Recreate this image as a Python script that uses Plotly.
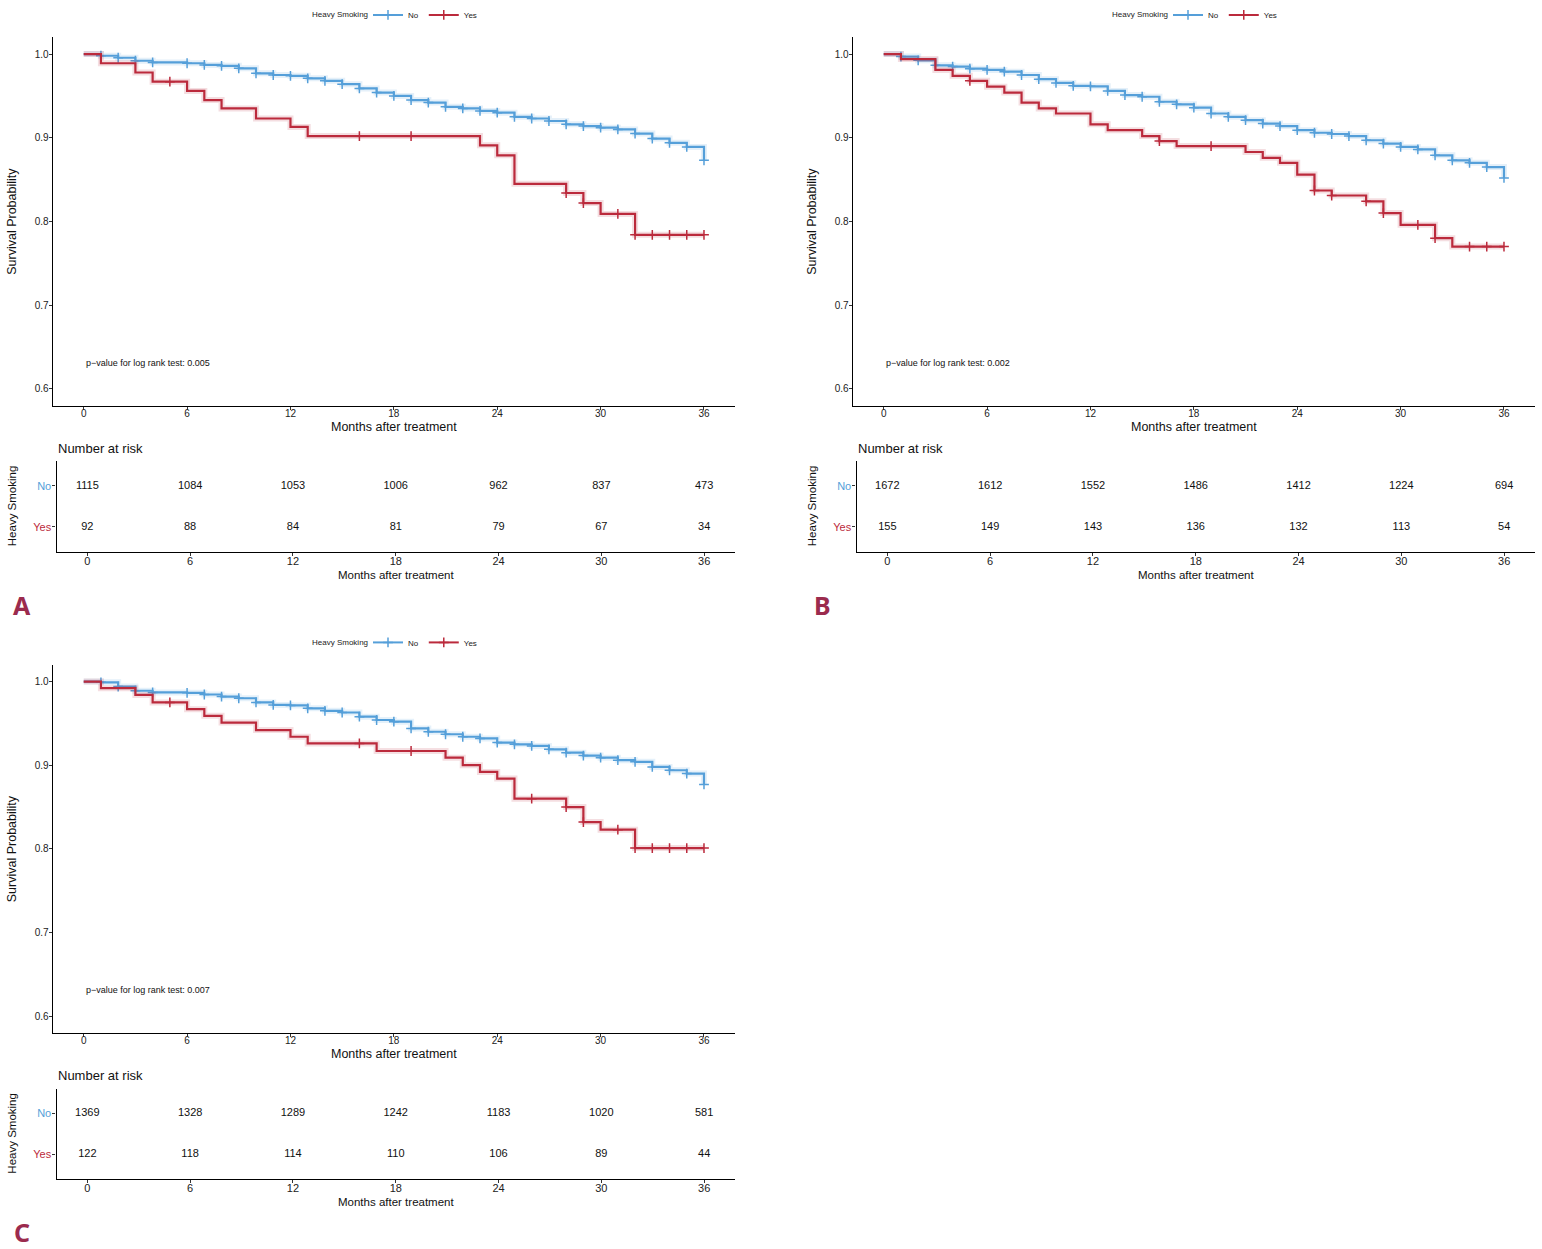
import plotly.graph_objects as go

W, H = 1542, 1249
FONT = "Liberation Sans, Arial, Helvetica, sans-serif"
BLUE = "#559FD9"
RED = "#BB2A3C"
LETTER = "#9B2B4E"

# ---------------- data ----------------
month_ticks = [0, 6, 12, 18, 24, 30, 36]
groups = ["No", "Yes"]
p_values = ["0.005", "0.002", "0.007"]
panel_letters = ["A", "B", "C"]

# Panel A
a_no_t = list(range(37))
a_no_s = [1.0, 0.998, 0.9956, 0.992, 0.990, 0.990, 0.989, 0.987, 0.986, 0.983, 0.977, 0.975,
          0.974, 0.971, 0.968, 0.964, 0.959, 0.954, 0.950, 0.945, 0.942, 0.937, 0.935, 0.932,
          0.930, 0.925, 0.923, 0.920, 0.916, 0.914, 0.912, 0.910, 0.905, 0.899, 0.894, 0.889, 0.873]
a_no_cens = [1, 2, 3, 4, 6, 7, 8, 9, 10, 11, 12, 13, 14, 15, 16, 17, 18, 19, 20, 21, 22, 23, 24,
             25, 26, 27, 28, 29, 30, 31, 32, 33, 34, 35, 36]
a_yes_t = [0, 1, 3, 4, 6, 7, 8, 10, 12, 13, 23, 24, 25, 28, 29, 30, 32, 36]
a_yes_s = [1.0, 0.989, 0.978, 0.967, 0.956, 0.945, 0.935, 0.923, 0.913, 0.902, 0.891, 0.879,
           0.845, 0.834, 0.822, 0.809, 0.784, 0.784]
a_yes_cens = [5, 16, 19, 28, 29, 31, 32, 33, 34, 35, 36]
a_risk_no = [1115, 1084, 1053, 1006, 962, 837, 473]
a_risk_yes = [92, 88, 84, 81, 79, 67, 34]

# Panel B
b_no_t = list(range(37))
b_no_s = [1.0, 0.997, 0.9925, 0.9865, 0.985, 0.9826, 0.981, 0.979, 0.975, 0.970, 0.9655, 0.962,
          0.9615, 0.956, 0.951, 0.949, 0.943, 0.940, 0.936, 0.929, 0.925, 0.921, 0.917, 0.914,
          0.909, 0.906, 0.9045, 0.902, 0.897, 0.893, 0.889, 0.886, 0.879, 0.873, 0.870, 0.865, 0.852]
b_no_cens = list(range(1, 37))
b_yes_t = [0, 1, 3, 4, 5, 6, 7, 8, 9, 10, 12, 13, 15, 16, 17, 21, 22, 23, 24, 25, 26, 28, 29, 30,
           32, 33, 36]
b_yes_s = [1.0, 0.994, 0.981, 0.974, 0.968, 0.961, 0.954, 0.942, 0.935, 0.929, 0.916, 0.909,
           0.902, 0.896, 0.890, 0.883, 0.876, 0.870, 0.856, 0.837, 0.831, 0.824, 0.810, 0.796,
           0.780, 0.770, 0.770]
b_yes_cens = [5, 16, 19, 25, 26, 28, 29, 31, 32, 34, 35, 36]
b_risk_no = [1672, 1612, 1552, 1486, 1412, 1224, 694]
b_risk_yes = [155, 149, 143, 136, 132, 113, 54]

# Panel C
c_no_t = list(range(37))
c_no_s = [1.0, 0.999, 0.994, 0.989, 0.987, 0.987, 0.9865, 0.9845, 0.982, 0.980, 0.975, 0.972,
          0.9715, 0.968, 0.965, 0.963, 0.958, 0.954, 0.952, 0.944, 0.940, 0.937, 0.934, 0.932,
          0.927, 0.925, 0.923, 0.919, 0.915, 0.9115, 0.909, 0.906, 0.904, 0.898, 0.894, 0.890, 0.877]
c_no_cens = [1, 2, 3, 4, 6, 7, 8, 9, 10, 11, 12, 13, 14, 15, 16, 17, 18, 19, 20, 21, 22, 23, 24,
             25, 26, 27, 28, 29, 30, 31, 32, 33, 34, 35, 36]
c_yes_t = [0, 1, 3, 4, 6, 7, 8, 10, 12, 13, 17, 21, 22, 23, 24, 25, 28, 29, 30, 32, 36]
c_yes_s = [1.0, 0.992, 0.984, 0.975, 0.967, 0.959, 0.951, 0.942, 0.934, 0.926, 0.917, 0.909,
           0.900, 0.892, 0.884, 0.860, 0.850, 0.832, 0.823, 0.801, 0.801]
c_yes_cens = [5, 16, 19, 26, 28, 29, 31, 32, 33, 34, 35, 36]
c_risk_no = [1369, 1328, 1289, 1242, 1183, 1020, 581]
c_risk_yes = [122, 118, 114, 110, 106, 89, 44]

panels = [
    dict(no=(a_no_t, a_no_s, a_no_cens), yes=(a_yes_t, a_yes_s, a_yes_cens),
         risk=(a_risk_no, a_risk_yes), dx=0, dy=0),
    dict(no=(b_no_t, b_no_s, b_no_cens), yes=(b_yes_t, b_yes_s, b_yes_cens),
         risk=(b_risk_no, b_risk_yes), dx=800, dy=0),
    dict(no=(c_no_t, c_no_s, c_no_cens), yes=(c_yes_t, c_yes_s, c_yes_cens),
         risk=(c_risk_no, c_risk_yes), dx=0, dy=631),
]


def step_at(times, surv, t):
    val = surv[0]
    for ti, si in zip(times, surv):
        if ti <= t:
            val = si
    return val


def px(x):
    return min(1.0, max(0.0, x / W))


def py(y):
    return min(1.0, max(0.0, 1 - y / H))


fig = go.Figure()
layout = dict(width=W, height=H, autosize=False, margin=dict(l=0, r=0, t=0, b=0, pad=0),
              paper_bgcolor="white", plot_bgcolor="white", showlegend=True,
              font=dict(family=FONT, color="black"))
annotations = []

axis_common = dict(showline=True, linecolor="black", linewidth=1.2, ticks="outside", ticklen=3,
                   tickwidth=1, tickcolor="#333", showgrid=False, zeroline=False, mirror=False,
                   fixedrange=True)

for i, p in enumerate(panels):
    dx, dy = p["dx"], p["dy"]
    kx = 2 * i + 1
    tx = 2 * i + 2
    kxn = "x" if kx == 1 else f"x{kx}"
    kyn = "y" if kx == 1 else f"y{kx}"
    txn = f"x{tx}"
    tyn = f"y{tx}"
    leg = "legend" if i == 0 else f"legend{i + 1}"

    # KM axes
    layout["xaxis" if kx == 1 else f"xaxis{kx}"] = dict(
        axis_common, domain=[px(52.7 + dx), px(735 + dx)], range=[-1.8, 37.8], anchor=kyn,
        tickvals=month_ticks, tickfont=dict(size=10, color="#222"), ticklabelstandoff=-5)
    layout["yaxis" if kx == 1 else f"yaxis{kx}"] = dict(
        axis_common, domain=[py(400.8 + dy), py(30.5 + dy)], range=[0.58, 1.02], anchor=kxn,
        tickvals=[0.6, 0.7, 0.8, 0.9, 1.0], tickformat=".1f", tickfont=dict(size=10, color="#222"),
        ticklabelstandoff=-2)
    # risk table axes
    layout[f"xaxis{tx}"] = dict(
        axis_common, domain=[px(56.5 + dx), px(735 + dx)], range=[-1.8, 37.8], anchor=tyn,
        tickvals=month_ticks, tickfont=dict(size=11, color="#222"), ticklabelstandoff=-4)
    layout[f"yaxis{tx}"] = dict(
        axis_common, domain=[py(547.7 + dy), py(456.7 + dy)], range=[0.4, 2.6], anchor=txn,
        tickvals=[2, 1],
        ticktext=[f"<span style='color:{BLUE}'>No</span>", f"<span style='color:{RED}'>Yes</span>"],
        tickfont=dict(size=11), ticklen=3, ticklabelstandoff=-1)

    for g, col in zip(groups, [BLUE, RED]):
        t, s, cens = p["no"] if g == "No" else p["yes"]
        # soft halo
        fig.add_trace(go.Scatter(x=t, y=s, mode="lines", line=dict(color=col, width=6, shape="hv"),
                                 opacity=0.15, xaxis=kxn, yaxis=kyn, showlegend=False,
                                 hoverinfo="skip"))
        fig.add_trace(go.Scatter(x=t, y=s, mode="lines", line=dict(color=col, width=2.2, shape="hv"),
                                 xaxis=kxn, yaxis=kyn, showlegend=False, name=g))
        fig.add_trace(go.Scatter(x=cens, y=[step_at(t, s, c) for c in cens], mode="markers",
                                 marker=dict(symbol="cross-thin", size=7, color=col,
                                             line=dict(color=col, width=1.5)),
                                 xaxis=kxn, yaxis=kyn, showlegend=False, name=g))
        # legend entry
        fig.add_trace(go.Scatter(x=[None], y=[None], mode="lines+markers", name=g,
                                 line=dict(color=col, width=2),
                                 marker=dict(symbol="cross-thin", size=7, color=col,
                                             line=dict(color=col, width=1.5)),
                                 xaxis=kxn, yaxis=kyn, legend=leg, showlegend=True))

    # risk table numbers
    risk_no, risk_yes = p["risk"]
    fig.add_trace(go.Scatter(x=month_ticks, y=[2] * len(month_ticks), mode="text",
                             text=[str(v) for v in risk_no], textposition="middle center",
                             textfont=dict(size=11, color="#111"), xaxis=txn, yaxis=tyn,
                             showlegend=False, hoverinfo="skip"))
    fig.add_trace(go.Scatter(x=month_ticks, y=[1] * len(month_ticks), mode="text",
                             text=[str(v) for v in risk_yes], textposition="middle center",
                             textfont=dict(size=11, color="#111"), xaxis=txn, yaxis=tyn,
                             showlegend=False, hoverinfo="skip"))

    layout[leg] = dict(orientation="h", x=px(368 + dx), xanchor="left", y=py(8 + dy),
                       yanchor="middle", bgcolor="rgba(0,0,0,0)", font=dict(size=8, color="#222"),
                       itemwidth=30, tracegroupgap=0, borderwidth=0)
    annotations.append(dict(text="Heavy Smoking", xref="paper", yref="paper",
                            x=px(370 + dx), y=py(8 + dy), xanchor="right", yanchor="middle",
                            showarrow=False, font=dict(size=8, color="#222")))

    # p-value
    annotations.append(dict(text=f"p\u2212value for log rank test: {p_values[i]}", xref=kxn, yref=kyn,
                            x=0, y=0.631, xanchor="left", yanchor="middle", showarrow=False,
                            font=dict(size=9, color="#111")))
    # titles
    annotations.append(dict(text="Months after treatment", xref="paper", yref="paper",
                            x=px(394 + dx), y=py(422 + dy), xanchor="center", yanchor="middle",
                            showarrow=False, font=dict(size=12.5, color="#111")))
    annotations.append(dict(text="Survival Probability", xref="paper", yref="paper",
                            x=px(12 + dx), y=py(216 + dy), xanchor="center", yanchor="middle",
                            textangle=-90, showarrow=False, font=dict(size=12.5, color="#111")))
    annotations.append(dict(text="Number at risk", xref="paper", yref="paper",
                            x=px(56 + dx), y=py(444 + dy), xanchor="left", yanchor="middle",
                            showarrow=False, font=dict(size=13, color="#111")))
    annotations.append(dict(text="Heavy Smoking", xref="paper", yref="paper",
                            x=px(12 + dx), y=py(502 + dy), xanchor="center", yanchor="middle",
                            textangle=-90, showarrow=False, font=dict(size=11.5, color="#111")))
    annotations.append(dict(text="Months after treatment", xref="paper", yref="paper",
                            x=px(396 + dx), y=py(571 + dy), xanchor="center", yanchor="middle",
                            showarrow=False, font=dict(size=11.5, color="#111")))
    annotations.append(dict(text=f"<b>{panel_letters[i]}</b>", xref="paper", yref="paper",
                            x=px(22 + dx), y=py(601 + dy), xanchor="center", yanchor="middle",
                            showarrow=False, font=dict(family="Noto Sans", size=25, color=LETTER)))

layout["annotations"] = annotations
fig.update_layout(**layout)
fig.write_html("out.html", config={"displayModeBar": False},
               post_script="document.body.style.margin='0px';document.body.style.overflow='hidden';")
